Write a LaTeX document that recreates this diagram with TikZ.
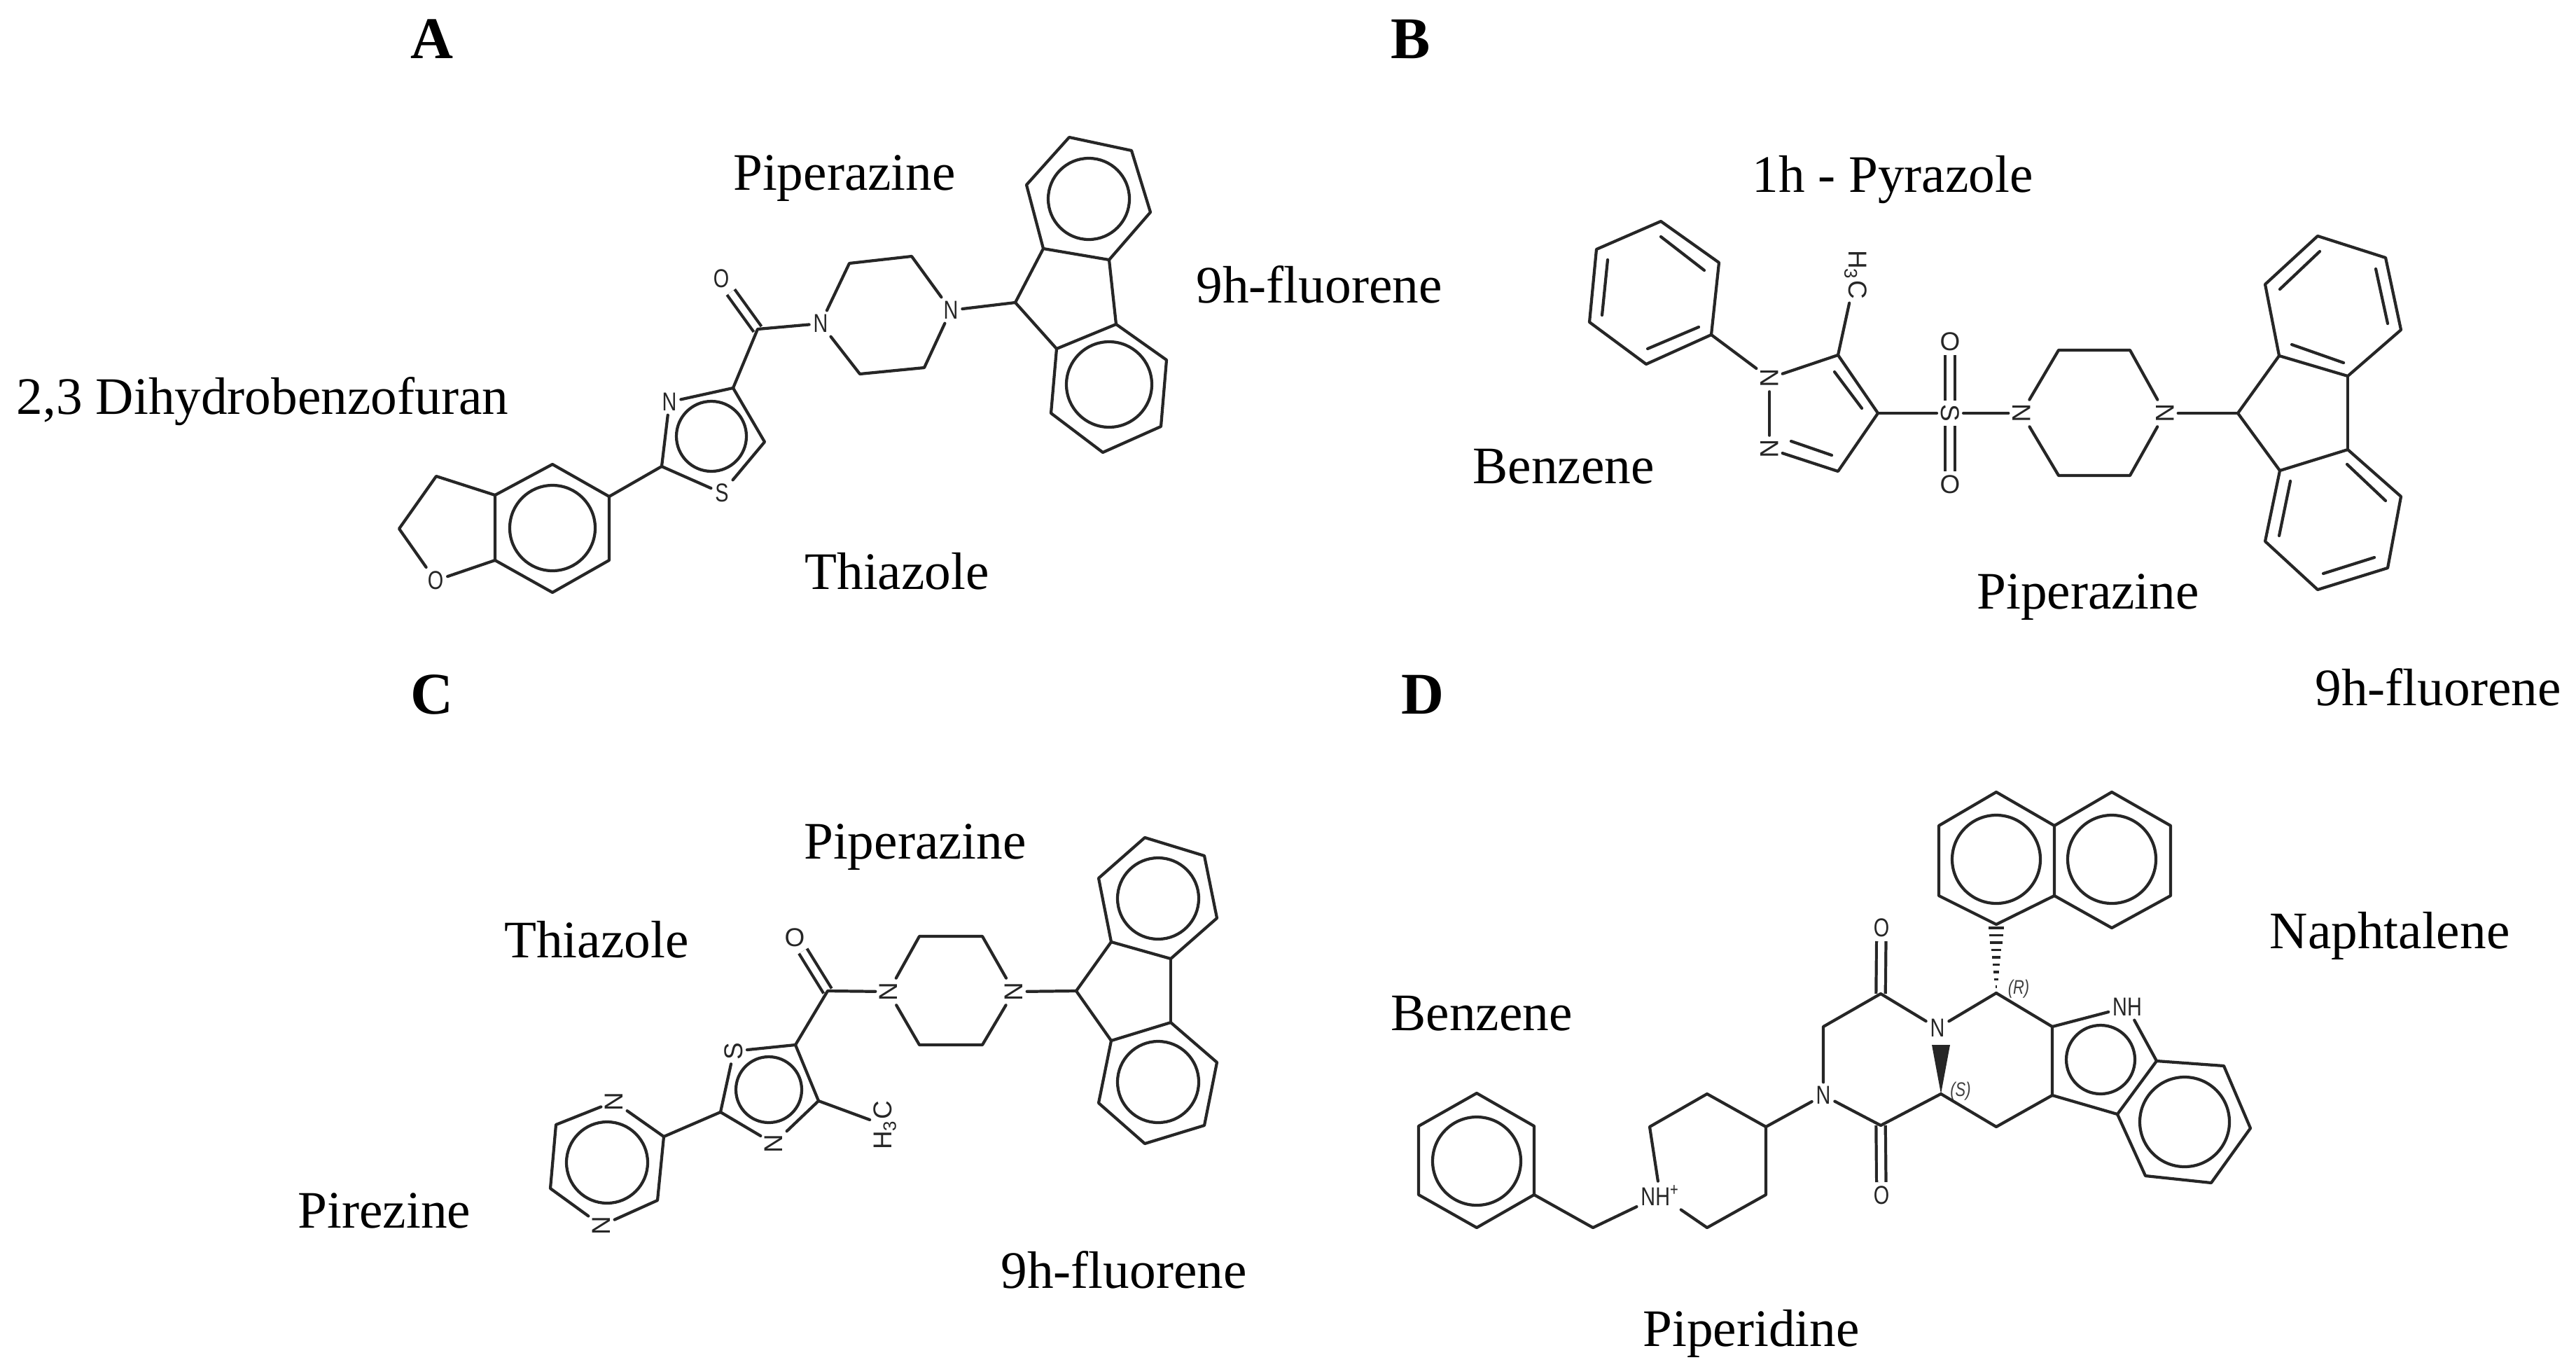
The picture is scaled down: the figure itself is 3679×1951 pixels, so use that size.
\documentclass[tikz,border=0pt]{standalone}
\usepackage{fontspec}
\setmainfont{Liberation Serif}
\setsansfont{Liberation Sans}
\newfontfamily\narrowatom[FakeStretch=0.78]{Liberation Sans}

\begin{document}
\begin{tikzpicture}[
        x=0.01cm,
        y=-0.01cm,
        bond/.style={
            line width=1.2pt,
            line join=round,
            line cap=round,
            black!85
        },
        dbond/.style={
            line width=1.2pt,
            double,
            double distance=2.6pt,
            black!85
        },
        ring/.style={
            line width=1.2pt,
            black!85
        },
        atom/.style={
            inner sep=1.5pt,
            font=\sffamily\fontsize{10.5}{12}\selectfont,
            text=black!85
        },
        thinatom/.style={
            atom,
            font=\narrowatom\fontsize{10.5}{12}\selectfont
        },
        stereo/.style={
            inner sep=0pt,
            font=\narrowatom\itshape\fontsize{8}{9}\selectfont,
            text=black!75
        },
        panel/.style={
            font=\bfseries\fontsize{24}{28}\selectfont
        },
        moiety/.style={
            font=\fontsize{21.4}{25}\selectfont
        }
    ]
        \useasboundingbox (0,0) rectangle (3679,1951);

        % panel A
        \node[panel] (tagA) at (617,56) {A};
        \node[moiety] (pipA) at (1206,255) {Piperazine};
        \node[moiety] (fluA) at (1884,406) {9h-fluorene};
        \node[moiety] (dihA) at (375,573) {2,3 Dihydrobenzofuran};
        \node[moiety] (thiA) at (1281,816) {Thiazole};
        \node[thinatom] (aO) at (1030,398) {O};
        \node[thinatom] (aN1) at (1172,462) {N};
        \node[thinatom] (aN2) at (1358,443) {N};
        \node[thinatom] (aN3) at (956,574) {N};
        \node[thinatom] (aS) at (1031,704) {S};
        \node[thinatom] (aO2) at (622,829) {O};
        \coordinate (aCO) at (1082,470);
        \coordinate (aC4) at (1047,554);
        \coordinate (aC5) at (1092,631);
        \coordinate (aC2) at (945,666);
        \coordinate (aC9) at (1450,432);
        \coordinate (ap1) at (1302,366);
        \coordinate (ap2) at (1213,376);
        \coordinate (ap3) at (1320,525);
        \coordinate (ap4) at (1228,534);
        \coordinate (at1) at (1527,196);
        \coordinate (at2) at (1616,215);
        \coordinate (at3) at (1643,303);
        \coordinate (at4) at (1584,371);
        \coordinate (at5) at (1490,355);
        \coordinate (at6) at (1466,264);
        \coordinate (ab1) at (1594,463);
        \coordinate (ab2) at (1666,514);
        \coordinate (ab3) at (1658,609);
        \coordinate (ab4) at (1575,646);
        \coordinate (ab5) at (1501,590);
        \coordinate (ab6) at (1509,498);
        \coordinate (ah1) at (870,709);
        \coordinate (ah2) at (789,663);
        \coordinate (ah3) at (707,707);
        \coordinate (ah4) at (707,800);
        \coordinate (ah5) at (789,846);
        \coordinate (ah6) at (870,800);
        \coordinate (af1) at (623,680);
        \coordinate (af2) at (570,755);
        \draw[dbond] (aO) -- (aCO);
        \draw[bond] (at1) -- (at2) -- (at3) -- (at4) -- (at5) -- (at6) -- cycle;
        \draw[bond] (ab1) -- (ab2) -- (ab3) -- (ab4) -- (ab5) -- (ab6) -- cycle;
        \draw[bond] (at4) -- (ab1);
        \draw[bond] (at5) -- (aC9) -- (ab6);
        \draw[bond] (aC9) -- (aN2);
        \draw[bond] (aN2) -- (ap1) -- (ap2) -- (aN1);
        \draw[bond] (aN1) -- (ap4) -- (ap3) -- (aN2);
        \draw[bond] (aN1) -- (aCO) -- (aC4);
        \draw[bond] (aC4) -- (aN3);
        \draw[bond] (aN3) -- (aC2);
        \draw[bond] (aC2) -- (aS);
        \draw[bond] (aS) -- (aC5) -- (aC4);
        \draw[bond] (aC2) -- (ah1);
        \draw[bond] (ah1) -- (ah2) -- (ah3) -- (ah4) -- (ah5) -- (ah6) -- cycle;
        \draw[bond] (ah3) -- (af1) -- (af2) -- (aO2);
        \draw[bond] (aO2) -- (ah4);
        \draw[ring] (1555,284) circle[radius=58];
        \draw[ring] (1584,549) circle[radius=61];
        \draw[ring] (1016,623) circle[radius=50];
        \draw[ring] (789,754) circle[radius=61];

        % panel B
        \node[panel] (tagB) at (2015,56) {B};
        \node[moiety] (pyrB) at (2703,257) {1h - Pyrazole};
        \node[moiety] (benB) at (2233,666) {Benzene};
        \node[moiety] (pipB) at (2982,853) {Piperazine};
        \node[moiety] (fluB) at (3482,981) {9h-fluorene};
        \node[atom, rotate=-90] (bN1) at (2527,540) {N};
        \node[atom, rotate=-90] (bN2) at (2527,641) {N};
        \node[atom, rotate=-90] (bS) at (2785,590) {S};
        \node[atom] (bO1) at (2785,488) {O};
        \node[atom] (bO2) at (2785,692) {O};
        \node[atom, rotate=-90] (bN3) at (2887,590) {N};
        \node[atom, rotate=-90] (bN4) at (3092,590) {N};
        \node[atom, rotate=-90, anchor=center] (bCH) at (2650,392) {H\textsubscript{3}C};
        \coordinate (bC3) at (2625,673);
        \coordinate (bC4) at (2682,590);
        \coordinate (bC5) at (2625,507);
        \coordinate (bC9) at (3196,590);
        \coordinate (bp1) at (2940,500);
        \coordinate (bp2) at (3042,500);
        \coordinate (bp3) at (3042,679);
        \coordinate (bp4) at (2940,679);
        \coordinate (bh1) at (2372,316);
        \coordinate (bh2) at (2455,375);
        \coordinate (bh3) at (2444,478);
        \coordinate (bh4) at (2351,520);
        \coordinate (bh5) at (2270,460);
        \coordinate (bh6) at (2280,356);
        \coordinate (bt1) at (3310,337);
        \coordinate (bt2) at (3407,368);
        \coordinate (bt3) at (3429,471);
        \coordinate (bt4) at (3353,537);
        \coordinate (bt5) at (3255,508);
        \coordinate (bt6) at (3235,406);
        \coordinate (bb1) at (3353,642);
        \coordinate (bb2) at (3429,709);
        \coordinate (bb3) at (3410,811);
        \coordinate (bb4) at (3310,842);
        \coordinate (bb5) at (3235,773);
        \coordinate (bb6) at (3256,672);
        \draw[dbond] (bS) -- (bO1);
        \draw[dbond] (bS) -- (bO2);
        \draw[bond] (bh1) -- (bh2) -- (bh3) -- (bh4) -- (bh5) -- (bh6) -- cycle;
        \draw[bond] (2372,338) -- (2434,386);
        \draw[bond] (2296,371) -- (2288,450);
        \draw[bond] (2353,498) -- (2426,467);
        \draw[bond] (bh3) -- (bN1);
        \draw[bond] (bN1) -- (bN2);
        \draw[bond] (bN2) -- (bC3) -- (bC4) -- (bC5) -- (bN1);
        \draw[bond] (2620,531) -- (2659,583);
        \draw[bond] (2558,630) -- (2616,650);
        \draw[bond] (bC5) -- (bCH);
        \draw[bond] (bC4) -- (bS);
        \draw[bond] (bS) -- (bN3);
        \draw[bond] (bN3) -- (bp1) -- (bp2) -- (bN4);
        \draw[bond] (bN3) -- (bp4) -- (bp3) -- (bN4);
        \draw[bond] (bN4) -- (bC9);
        \draw[bond] (bt5) -- (bC9) -- (bb6);
        \draw[bond] (bt4) -- (bb1);
        \draw[bond] (bt1) -- (bt2) -- (bt3) -- (bt4) -- (bt5) -- (bt6) -- cycle;
        \draw[bond] (3313,359) -- (3256,413);
        \draw[bond] (3393,384) -- (3410,462);
        \draw[bond] (3347,518) -- (3273,492);
        \draw[bond] (bb1) -- (bb2) -- (bb3) -- (bb4) -- (bb5) -- (bb6) -- cycle;
        \draw[bond] (3352,663) -- (3407,715);
        \draw[bond] (3391,796) -- (3318,819);
        \draw[bond] (3255,765) -- (3271,687);

        % panel C
        \node[panel] (tagC) at (617,992) {C};
        \node[moiety] (pipC) at (1307,1210) {Piperazine};
        \node[moiety] (thiC) at (852,1342) {Thiazole};
        \node[moiety] (pirC) at (549,1729) {Pirezine};
        \node[moiety] (fluC) at (1605,1813) {9h-fluorene};
        \node[atom] (cO) at (1135,1339) {O};
        \node[atom, rotate=90] (cN1) at (1269,1416) {N};
        \node[atom, rotate=90] (cN2) at (1448,1416) {N};
        \node[atom, rotate=90] (cS) at (1048,1501) {S};
        \node[atom, rotate=90] (cN3) at (1105,1633) {N};
        \node[atom, rotate=90] (cN4) at (877,1573) {N};
        \node[atom, rotate=90] (cN5) at (859,1750) {N};
        \node[atom, rotate=90] (cCH) at (1264,1607) {H\textsubscript{3}C};
        \coordinate (cCO) at (1182,1415);
        \coordinate (cC5) at (1136,1492);
        \coordinate (cC2) at (1029,1588);
        \coordinate (cC4) at (1169,1572);
        \coordinate (cC9) at (1537,1415);
        \coordinate (cp1) at (1313,1337);
        \coordinate (cp2) at (1403,1337);
        \coordinate (cp3) at (1403,1492);
        \coordinate (cp4) at (1313,1492);
        \coordinate (ct1) at (1635,1196);
        \coordinate (ct2) at (1720,1222);
        \coordinate (ct3) at (1738,1311);
        \coordinate (ct4) at (1672,1369);
        \coordinate (ct5) at (1587,1345);
        \coordinate (ct6) at (1569,1254);
        \coordinate (cb1) at (1672,1460);
        \coordinate (cb2) at (1738,1517);
        \coordinate (cb3) at (1720,1607);
        \coordinate (cb4) at (1635,1633);
        \coordinate (cb5) at (1569,1575);
        \coordinate (cb6) at (1587,1486);
        \coordinate (cr1) at (948,1623);
        \coordinate (cr2) at (939,1714);
        \coordinate (cr3) at (786,1697);
        \coordinate (cr4) at (794,1606);
        \draw[dbond] (cO) -- (cCO);
        \draw[bond] (ct1) -- (ct2) -- (ct3) -- (ct4) -- (ct5) -- (ct6) -- cycle;
        \draw[bond] (cb1) -- (cb2) -- (cb3) -- (cb4) -- (cb5) -- (cb6) -- cycle;
        \draw[bond] (ct4) -- (cb1);
        \draw[bond] (ct5) -- (cC9) -- (cb6);
        \draw[bond] (cC9) -- (cN2);
        \draw[bond] (cN2) -- (cp2) -- (cp1) -- (cN1);
        \draw[bond] (cN1) -- (cp4) -- (cp3) -- (cN2);
        \draw[bond] (cN1) -- (cCO) -- (cC5);
        \draw[bond] (cC5) -- (cS);
        \draw[bond] (cS) -- (cC2);
        \draw[bond] (cC2) -- (cN3);
        \draw[bond] (cN3) -- (cC4) -- (cC5);
        \draw[bond] (cC4) -- (cCH);
        \draw[bond] (cC2) -- (cr1);
        \draw[bond] (cN4) -- (cr1) -- (cr2) -- (cN5);
        \draw[bond] (cN5) -- (cr3) -- (cr4) -- (cN4);
        \draw[ring] (1654,1283) circle[radius=58];
        \draw[ring] (1654,1545) circle[radius=58];
        \draw[ring] (1098,1556) circle[radius=47];
        \draw[ring] (867,1660) circle[radius=58];

        % panel D
        \node[panel] (tagD) at (2032,992) {D};
        \node[moiety] (benD) at (2116,1447) {Benzene};
        \node[moiety] (napD) at (3413,1336) {Naphtalene};
        \node[moiety] (pidD) at (2501,1904) {Piperidine};
        \node[thinatom] (dO1) at (2687,1325) {O};
        \node[thinatom] (dO2) at (2687,1707) {O};
        \node[thinatom] (dN1) at (2767,1468) {N};
        \node[thinatom] (dN2) at (2604,1564) {N};
        \node[thinatom] (dNH) at (3038,1438) {NH};
        \node[thinatom] (dNp) at (2371,1707) {NH\textsuperscript{+}};
        \node[stereo] (dR) at (2883,1412) {(R)};
        \node[stereo] (dS) at (2800,1558) {(S)};
        \coordinate (dCR) at (2851,1418);
        \coordinate (dCS) at (2772,1562);
        \coordinate (dC1) at (2686,1419);
        \coordinate (dC2) at (2604,1466);
        \coordinate (dC3) at (2686,1607);
        \coordinate (dC4) at (2851,1609);
        \coordinate (dC5) at (2931,1564);
        \coordinate (dC6) at (2931,1466);
        \coordinate (dn1) at (2851,1131);
        \coordinate (dn2) at (2934,1179);
        \coordinate (dn3) at (2934,1279);
        \coordinate (dn4) at (2851,1320);
        \coordinate (dn5) at (2769,1279);
        \coordinate (dn6) at (2769,1179);
        \coordinate (dn7) at (3016,1131);
        \coordinate (dn8) at (3100,1179);
        \coordinate (dn9) at (3100,1279);
        \coordinate (dn10) at (3016,1325);
        \coordinate (di1) at (3024,1591);
        \coordinate (di2) at (3080,1515);
        \coordinate (di3) at (3176,1522);
        \coordinate (di4) at (3214,1611);
        \coordinate (di5) at (3158,1689);
        \coordinate (di6) at (3064,1679);
        \coordinate (dq1) at (2522,1609);
        \coordinate (dq2) at (2438,1562);
        \coordinate (dq3) at (2356,1609);
        \coordinate (dq4) at (2438,1753);
        \coordinate (dq5) at (2522,1706);
        \coordinate (dCH) at (2275,1753);
        \coordinate (dh1) at (2191,1706);
        \coordinate (dh2) at (2191,1608);
        \coordinate (dh3) at (2109,1561);
        \coordinate (dh4) at (2026,1608);
        \coordinate (dh5) at (2026,1706);
        \coordinate (dh6) at (2109,1753);
        \draw[dbond] (dO1) -- (dC1);
        \draw[dbond] (dO2) -- (dC3);
        \draw[bond] (dn1) -- (dn2) -- (dn3) -- (dn4) -- (dn5) -- (dn6) -- cycle;
        \draw[bond] (dn2) -- (dn7) -- (dn8) -- (dn9) -- (dn10) -- (dn3);
        \foreach \t in {0,1,...,8} {
            \draw[line width=1.1pt, black!85] (2851-11+\t*1.2,1325+\t*10.5) -- (2851+11-\t*1.2,1325+\t*10.5);
        }
        \draw[bond] (dCR) -- (dN1);
        \draw[bond] (dN1) -- (dC1) -- (dC2) -- (dN2);
        \draw[bond] (dN2) -- (dC3) -- (dCS) -- (dC4) -- (dC5) -- (dC6) -- (dCR);
        \draw[fill=black!85, draw=none] (dCS) -- (2759,1492) -- (2785,1492) -- cycle;
        \draw[bond] (dC6) -- (dNH);
        \draw[bond] (dNH) -- (di2);
        \draw[bond] (dC5) -- (di1) -- (di2);
        \draw[bond] (di1) -- (di6) -- (di5) -- (di4) -- (di3) -- (di2);
        \draw[bond] (dN2) -- (dq1) -- (dq2) -- (dq3) -- (dNp);
        \draw[bond] (dNp) -- (dq4) -- (dq5) -- (dq1);
        \draw[bond] (dNp) -- (dCH) -- (dh1);
        \draw[bond] (dh1) -- (dh2) -- (dh3) -- (dh4) -- (dh5) -- (dh6) -- cycle;
        \draw[ring] (2851,1227) circle[radius=63];
        \draw[ring] (3016,1227) circle[radius=63];
        \draw[ring] (3000,1513) circle[radius=49];
        \draw[ring] (3120,1602) circle[radius=64];
        \draw[ring] (2109,1658) circle[radius=63];
\end{tikzpicture}
\end{document}
